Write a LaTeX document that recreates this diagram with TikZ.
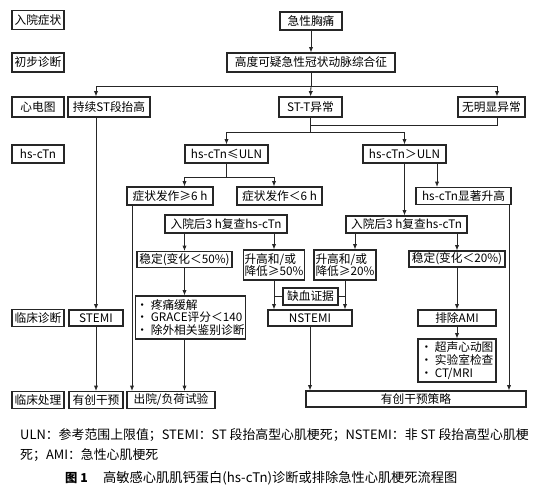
\documentclass[tikz,border=0pt]{standalone}
\usepackage{fontspec}
\setmainfont{Noto Sans CJK SC}
\usetikzlibrary{arrows.meta, calc}
\tikzset{
  box/.style 2 args={draw=black!85, line width=1pt, inner sep=1pt,
    minimum width=#1*0.03cm, minimum height=#2*0.03cm,
    font=\fontsize{10}{11}\selectfont}
}
\tikzset{
  link/.style={draw=black!85, line width=0.7pt},
  arr/.style={link, -{Latex[length=4.5pt,width=3.6pt]}},
  captext/.style={anchor=base west, inner sep=0pt, font=\fontsize{11}{12}\selectfont}
}

\begin{document}
\begin{tikzpicture}[x=0.03cm, y=0.03cm]
  \useasboundingbox (0,0) rectangle (554,490);
  % row labels on the left
  \node[box={52}{19}] (lblA) at (38,470) {入院症状};
  \node[box={52}{19}] (lblB) at (38,427.5) {初步诊断};
  \node[box={52}{20}] (lblC) at (38,383) {心电图};
  \node[box={52}{18}] (lblD) at (38,336) {hs-cTn};
  \node[box={52}{17}] (lblE) at (38,172) {临床诊断};
  \node[box={52}{17}] (lblF) at (38,90) {临床处理};
  % top of the flow
  \node[box={62}{18}] (chest) at (311,469) {急性胸痛};
  \node[box={168}{19}] (acs) at (311,427.5) {高度可疑急性冠状动脉综合征};
  \node[box={82}{20}] (stup) at (109,383) {持续ST段抬高};
  \node[box={63}{20}] (stt) at (310.5,383) {ST-T异常};
  \node[box={67}{20}] (noabn) at (491.5,383) {无明显异常};
  % troponin branches
  \node[box={83}{18}] (hsle) at (226.5,336) {hs-cTn≤ULN};
  \node[box={83}{18}] (hsgt) at (404.5,336) {hs-cTn＞ULN};
  \node[box={86}{18}] (sym6) at (170,294) {症状发作≥6 h};
  \node[box={85}{18}] (syl6) at (279.5,294) {症状发作＜6 h};
  \node[box={95}{17}] (sig) at (463.5,294) {hs-cTn显著升高};
  \node[box={122}{18}] (rchk1) at (226,266) {入院后3 h复查hs-cTn};
  \node[box={121}{17}] (rchk2) at (406.5,265.5) {入院后3 h复查hs-cTn};
  \node[box={95}{16}] (st50) at (184.5,230.5) {稳定(变化＜50\%)};
  \node[box={61}{30}, align=left] (up50) at (274,225) {升高和/或\\降低≥50\%};
  \node[box={62}{30}, align=left] (up20) at (345,225) {升高和/或\\降低≥20\%};
  \node[box={96}{16}] (st20) at (457,231) {稳定(变化＜20\%)};
  \node[box={55}{17}] (isch) at (310.5,193.5) {缺血证据};
  % diagnosis row
  \node[box={107}{43}, align=left] (pain) at (190.5,172.5)
    {· 疼痛缓解\\· GRACE评分＜140\\· 除外相关鉴别诊断};
  \node[box={54}{16}] (stemi) at (96,172) {STEMI};
  \node[box={84}{16}] (nst) at (310,172) {NSTEMI};
  \node[box={78}{16}] (exam) at (457,172) {排除AMI};
  \node[box={78}{43}, align=left] (us) at (457,129.5)
    {· 超声心动图\\· 实验室检查\\· CT/MRI};
  % treatment row
  \node[box={54}{17}] (inv1) at (96,90) {有创干预};
  \node[box={88}{17}] (dis) at (171,90) {出院/负荷试验};
  \node[box={220}{16}] (inv2) at (416,91) {有创干预策略};

  % bus points and off-centre feet
  \coordinate (ecgbus) at (311,404);
  \coordinate (nbus) at (310.5,365);
  \coordinate (tnbus) at (310.5,358);
  \coordinate (sbus) at (226.5,313);
  \coordinate (nax) at (497,383);
  \coordinate (sigin) at (437,327);
  \coordinate (r20) at (355,257);
  \coordinate (go6) at (132,285);
  \coordinate (gosig) at (509,285.5);

  \draw[arr] (chest.south) -- (acs.north);
  \draw[link] (acs.south) -- (ecgbus);
  \draw[arr] (ecgbus) -| (stup.north -| stemi.north);
  \draw[arr] (ecgbus) -- (stt.north);
  \draw[arr] (ecgbus) -| (noabn.north -| nax);
  \draw[arr] (stup.south -| stemi.north) -- (stemi.north);
  \draw[arr] (stemi.south) -- (inv1.north);
  % ST-T and normal ECG both go on to troponin
  \draw[link] (stt.south) -- (tnbus);
  \draw[link] (noabn.south -| nax) |- (nbus);
  \draw[arr] (tnbus) -| (hsle.north);
  \draw[arr] (tnbus) -| (hsgt.north);
  \draw[link] (hsle.south) -- (sbus);
  \draw[arr] (sbus) -| (sym6.north -| st50.north);
  \draw[arr] (sbus) -| (syl6.north -| up50.north);
  \draw[arr] (go6) -- (go6 |- dis.north);
  \draw[arr] (rchk1.south -| st50.north) -- (st50.north);
  \draw[arr] (rchk1.south -| up50.north) -- (up50.north);
  \draw[arr] (st50.south) -- (st50.south |- pain.north);
  \draw[arr] (st50.south |- pain.south) -- (st50.south |- dis.north);
  \draw[arr] (up50.south) -- (up50.south |- nst.north);
  \draw[arr] (up20.south) -- (up20.south |- nst.north);
  \draw[link] (isch.west) -- (isch.west -| up50.south);
  \draw[link] (isch.east) -- (isch.east -| up20.south);
  \draw[arr] (nst.south) -- (nst.south |- inv2.north);
  \draw[arr] (hsgt.south) -- (hsgt.south |- rchk2.north);
  \draw[arr] (sigin) -- (sigin |- sig.north);
  \draw[arr] (r20) -- (r20 |- up20.north);
  \draw[arr] (rchk2.south -| st20.north) -- (st20.north);
  \draw[arr] (st20.south) -- (exam.north);
  \draw[arr] (exam.south) -- (us.north);
  \draw[arr] (gosig) -- (gosig |- inv2.north);

  % legend and caption
  \node[captext] (cap1) at (20,51)
    {ULN：参考范围上限值；STEMI：ST 段抬高型心肌梗死；NSTEMI：非 ST 段抬高型心肌梗};
  \node[captext] (cap2) at (20,31) {死；AMI：急性心肌梗死};
  \node[captext, font=\fontsize{10.5}{12}\selectfont\bfseries] (fig) at (65,8) {图 1};
  \node[captext, font=\fontsize{11.3}{12}\selectfont] (title) at (103,8)
    {高敏感心肌肌钙蛋白(hs-cTn)诊断或排除急性心肌梗死流程图};
\end{tikzpicture}
\end{document}
